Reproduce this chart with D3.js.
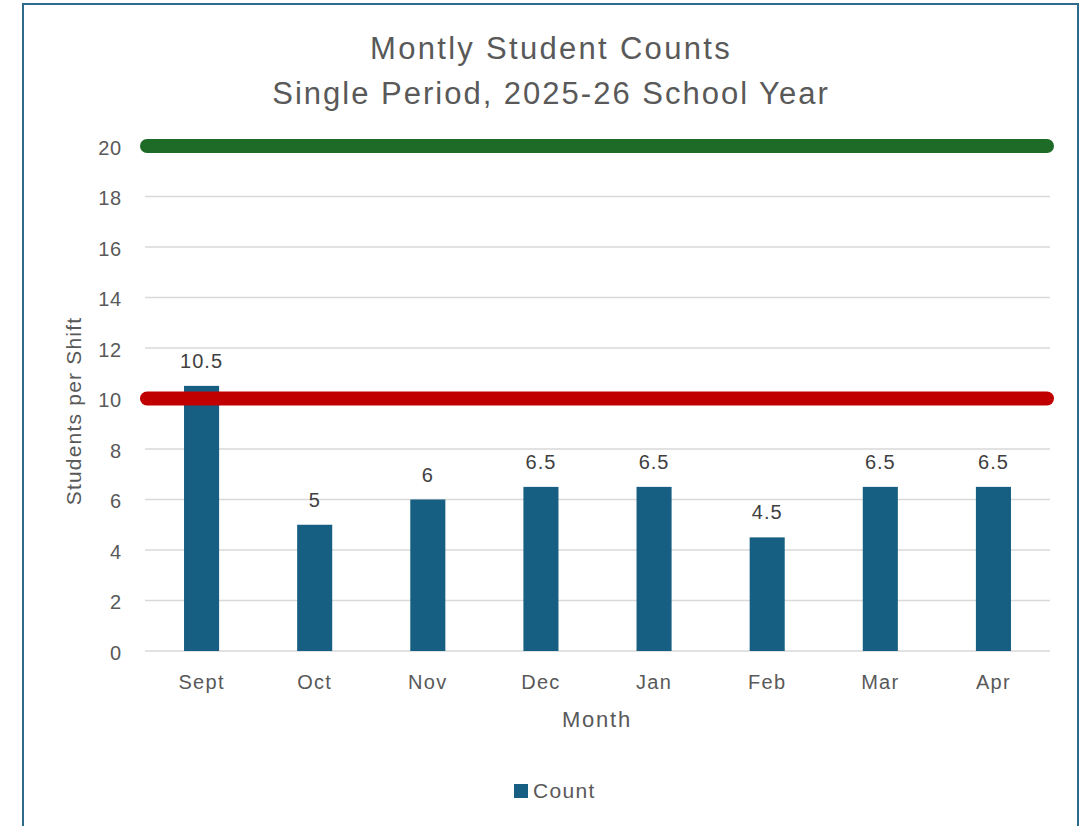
<!DOCTYPE html>
<html>
<head>
<meta charset="utf-8">
<script src="https://cdn.jsdelivr.net/npm/d3@7"></script>
<style>
  body { margin: 0; background: #fff; }
  text { font-family: "Liberation Sans", Arial, sans-serif; }
</style>
</head>
<body>
<svg id="chart" width="1084" height="826"></svg>
<script>
// chart data
const months = ["Sept", "Oct", "Nov", "Dec", "Jan", "Feb", "Mar", "Apr"];
const counts = [10.5, 5, 6, 6.5, 6.5, 4.5, 6.5, 6.5];
const yTicks = [0, 2, 4, 6, 8, 10, 12, 14, 16, 18, 20];
const refValues = [20, 10];
const refColors = ["#1e6b27", "#c00000"];

const svg = d3.select("#chart");
const font = "'Liberation Sans', Arial, sans-serif";

// outer frame
svg.append("rect")
    .attr("x", 23).attr("y", 4)
    .attr("width", 1055).attr("height", 840)
    .attr("fill", "#fff")
    .attr("stroke", "#2d6a8c")
    .attr("stroke-width", 2);

const plotL = 145, plotR = 1050, plotT = 146, plotB = 651;

const x = d3.scaleBand()
    .domain(months)
    .range([plotL, plotR])
    .paddingInner(0.69)
    .paddingOuter(0.345);

const y = d3.scaleLinear()
    .domain([0, 20])
    .range([plotB, plotT]);

// title
svg.append("text")
    .attr("x", 551).attr("y", 59)
    .attr("text-anchor", "middle")
    .attr("font-size", 31)
    .attr("letter-spacing", 2.3)
    .attr("fill", "#595959")
    .text("Montly Student Counts");
svg.append("text")
    .attr("x", 551).attr("y", 104)
    .attr("text-anchor", "middle")
    .attr("font-size", 31)
    .attr("letter-spacing", 2)
    .attr("fill", "#595959")
    .text("Single Period, 2025-26 School Year");

// gridlines
svg.append("g")
    .selectAll("line")
    .data(yTicks)
    .join("line")
    .attr("x1", plotL).attr("x2", plotR)
    .attr("y1", d => y(d)).attr("y2", d => y(d))
    .attr("stroke", "#d9d9d9")
    .attr("stroke-width", 1.5);

// y axis labels
const yAxis = svg.append("g")
    .attr("transform", `translate(${plotL - 23},2)`)
    .call(d3.axisLeft(y).tickValues(yTicks).tickSize(0).tickPadding(0));
yAxis.select(".domain").remove();
yAxis.selectAll("text")
    .attr("font-size", 20)
    .attr("letter-spacing", 0.8)
    .attr("fill", "#595959")
    .style("font-family", font);

// x axis labels
const xAxis = svg.append("g")
    .attr("transform", `translate(0,${plotB})`)
    .call(d3.axisBottom(x).tickSize(0).tickPadding(24));
xAxis.select(".domain").remove();
xAxis.selectAll("text")
    .attr("font-size", 20)
    .attr("letter-spacing", 1.3)
    .attr("fill", "#595959")
    .style("font-family", font);

// bars
svg.append("g")
    .selectAll("rect")
    .data(months)
    .join("rect")
    .attr("x", d => x(d))
    .attr("y", (d, i) => y(counts[i]))
    .attr("width", x.bandwidth())
    .attr("height", (d, i) => y(0) - y(counts[i]))
    .attr("fill", "#175f82");

// value labels
svg.append("g")
    .selectAll("text")
    .data(months)
    .join("text")
    .attr("x", d => x(d) + x.bandwidth() / 2)
    .attr("y", (d, i) => y(counts[i]) - 18)
    .attr("text-anchor", "middle")
    .attr("font-size", 20)
    .attr("letter-spacing", 1)
    .attr("fill", "#404040")
    .text((d, i) => counts[i]);

// reference lines
svg.append("g")
    .selectAll("line")
    .data(refValues)
    .join("line")
    .attr("x1", plotL + 2).attr("x2", plotR - 3)
    .attr("y1", d => y(d)).attr("y2", d => y(d))
    .attr("stroke", (d, i) => refColors[i])
    .attr("stroke-width", 14)
    .attr("stroke-linecap", "round");

// axis titles
svg.append("text")
    .attr("transform", "translate(81,411) rotate(-90)")
    .attr("text-anchor", "middle")
    .attr("font-size", 21)
    .attr("letter-spacing", 1.2)
    .attr("fill", "#595959")
    .text("Students per Shift");
svg.append("text")
    .attr("x", 597).attr("y", 727)
    .attr("text-anchor", "middle")
    .attr("font-size", 22)
    .attr("letter-spacing", 1.8)
    .attr("fill", "#595959")
    .text("Month");

// legend
svg.append("rect")
    .attr("x", 514).attr("y", 784)
    .attr("width", 14).attr("height", 14)
    .attr("fill", "#175f82");
svg.append("text")
    .attr("x", 533).attr("y", 798)
    .attr("font-size", 21)
    .attr("letter-spacing", 1.3)
    .attr("fill", "#595959")
    .text("Count");
</script>
</body>
</html>
